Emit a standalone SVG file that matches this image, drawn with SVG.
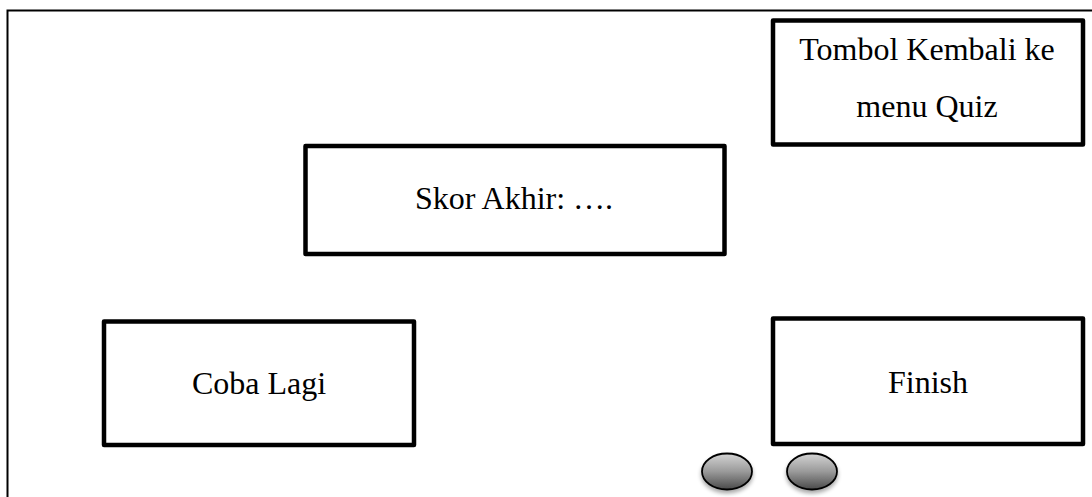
<svg xmlns="http://www.w3.org/2000/svg" width="1092" height="497" viewBox="0 0 1092 497">
<style>
.box{fill:#fff;stroke:#000;stroke-width:4.5;stroke-linejoin:round}
.t{font-family:"Liberation Serif","Times New Roman",serif;font-size:32px;fill:#000;text-anchor:middle}
.btn{fill:url(#g);stroke:#000;stroke-width:1.8}
</style>
<defs>
<linearGradient id="g" x1="0" y1="0" x2="0" y2="1">
<stop offset="0" stop-color="#d4d4d4"/>
<stop offset="0.5" stop-color="#9a9a9a"/>
<stop offset="1" stop-color="#4a4a4a"/>
</linearGradient>
<filter id="sh" x="-30%" y="-30%" width="160%" height="180%">
<feGaussianBlur in="SourceAlpha" stdDeviation="2"/>
<feOffset dx="0" dy="3"/>
<feComponentTransfer><feFuncA type="linear" slope="0.35"/></feComponentTransfer>
<feMerge><feMergeNode/><feMergeNode in="SourceGraphic"/></feMerge>
</filter>
</defs>
<rect width="1092" height="497" fill="#fff"/>
<g id="frame"><path d="M7.5 497 V10.5 H1092" fill="none" stroke="#000" stroke-width="2"/></g>
<g id="connectors"></g>
<g id="tombol"><rect class="box" x="773" y="20.5" width="310" height="124"/>
<text class="t" x="927" y="60">Tombol Kembali ke</text>
<text class="t" x="927" y="117">menu Quiz</text></g>
<g id="skor"><rect class="box" x="305.5" y="146" width="419" height="108"/>
<text class="t" x="514" y="209">Skor Akhir: ….</text></g>
<g id="coba"><rect class="box" x="104" y="321.5" width="310" height="123.5"/>
<text class="t" x="259" y="394">Coba Lagi</text></g>
<g id="finish"><rect class="box" x="773" y="318.5" width="310" height="125.5"/>
<text class="t" x="928" y="393">Finish</text></g>
<g id="btn1"><ellipse class="btn" filter="url(#sh)" cx="727" cy="471.5" rx="25" ry="18"/></g>
<g id="btn2"><ellipse class="btn" filter="url(#sh)" cx="812" cy="471.5" rx="25" ry="18"/></g>
</svg>
